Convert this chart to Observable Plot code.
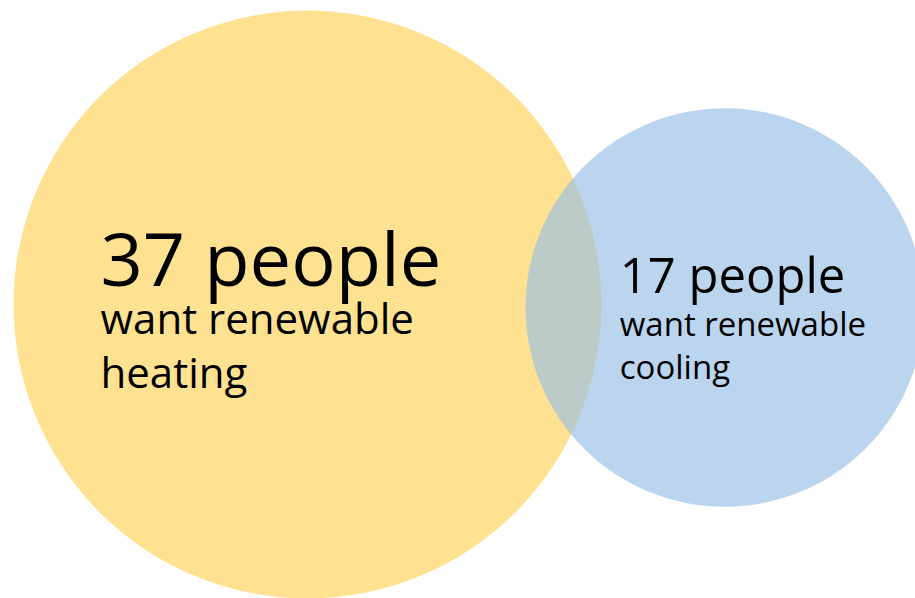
<!DOCTYPE html>
<html>
<head>
<meta charset="utf-8">
<script src="https://cdn.jsdelivr.net/npm/d3@7"></script>
<script src="https://cdn.jsdelivr.net/npm/@observablehq/plot@0.6"></script>
<style>
  html, body { margin: 0; padding: 0; background: #ffffff; }
  #chart svg { display: block; }
</style>
</head>
<body>
<div id="chart"></div>
<script>
// ---- data ----
const groups = ["heating", "cooling"];
const counts = [37, 17];
const headlines = ["37 people", "17 people"];
const sublines = [["want renewable", "heating"], ["want renewable", "cooling"]];
const fills = ["#FFE291", "#9ABFE5"];

// ---- layout (pixels) ----
const W = 915, H = 598;
const maxR = 294;
const rOf = v => maxR * Math.sqrt(v / d3.max(counts));
const overlapWidth = 76;
const cx0 = 307, cy0 = 304;
const cx1 = cx0 + rOf(counts[0]) + rOf(counts[1]) - overlapWidth, cy1 = 307;
const centers = [[cx0, cy0], [cx1, cy1]];

const circles = groups.map((g, i) => ({group: g, count: counts[i], cx: centers[i][0], cy: centers[i][1], fill: fills[i], opacity: i === 0 ? 1 : 0.66}));

// text layout: offsets from circle centres
const textLayout = [
  {dx: -207, base: [-19, 29, 83], size: [74, 42]},
  {dx: -105, base: [-15, 28, 71], size: [49, 33]}
];
const texts = [];
groups.forEach((g, i) => {
  const L = textLayout[i];
  const x = centers[i][0] + L.dx;
  const y = centers[i][1];
  texts.push({x, y: y + L.base[0], text: headlines[i], size: L.size[0]});
  sublines[i].forEach((s, j) => texts.push({x, y: y + L.base[j + 1], text: s, size: L.size[1]}));
});

const chart = Plot.plot({
  width: W,
  height: H,
  margin: 0,
  style: {background: "#ffffff", fontFamily: "'Open Sans', sans-serif"},
  x: {domain: [0, W], range: [0, W], axis: null},
  y: {domain: [0, H], range: [0, H], axis: null},
  r: {type: "sqrt", domain: [0, d3.max(counts)], range: [0, maxR]},
  marks: [
    ...circles.map(c => Plot.dot([c], {x: "cx", y: "cy", r: "count", fill: c.fill, fillOpacity: c.opacity, stroke: "none"})),
    ...[74, 42, 49, 33].map(sz => Plot.text(texts.filter(t => t.size === sz), {
      x: "x", y: "y", text: "text", fontSize: sz, textAnchor: "start", lineAnchor: "bottom",
      fill: "#000000", fontFamily: "'Open Sans', sans-serif"
    }))
  ]
});
document.getElementById("chart").appendChild(chart);
</script>
</body>
</html>
